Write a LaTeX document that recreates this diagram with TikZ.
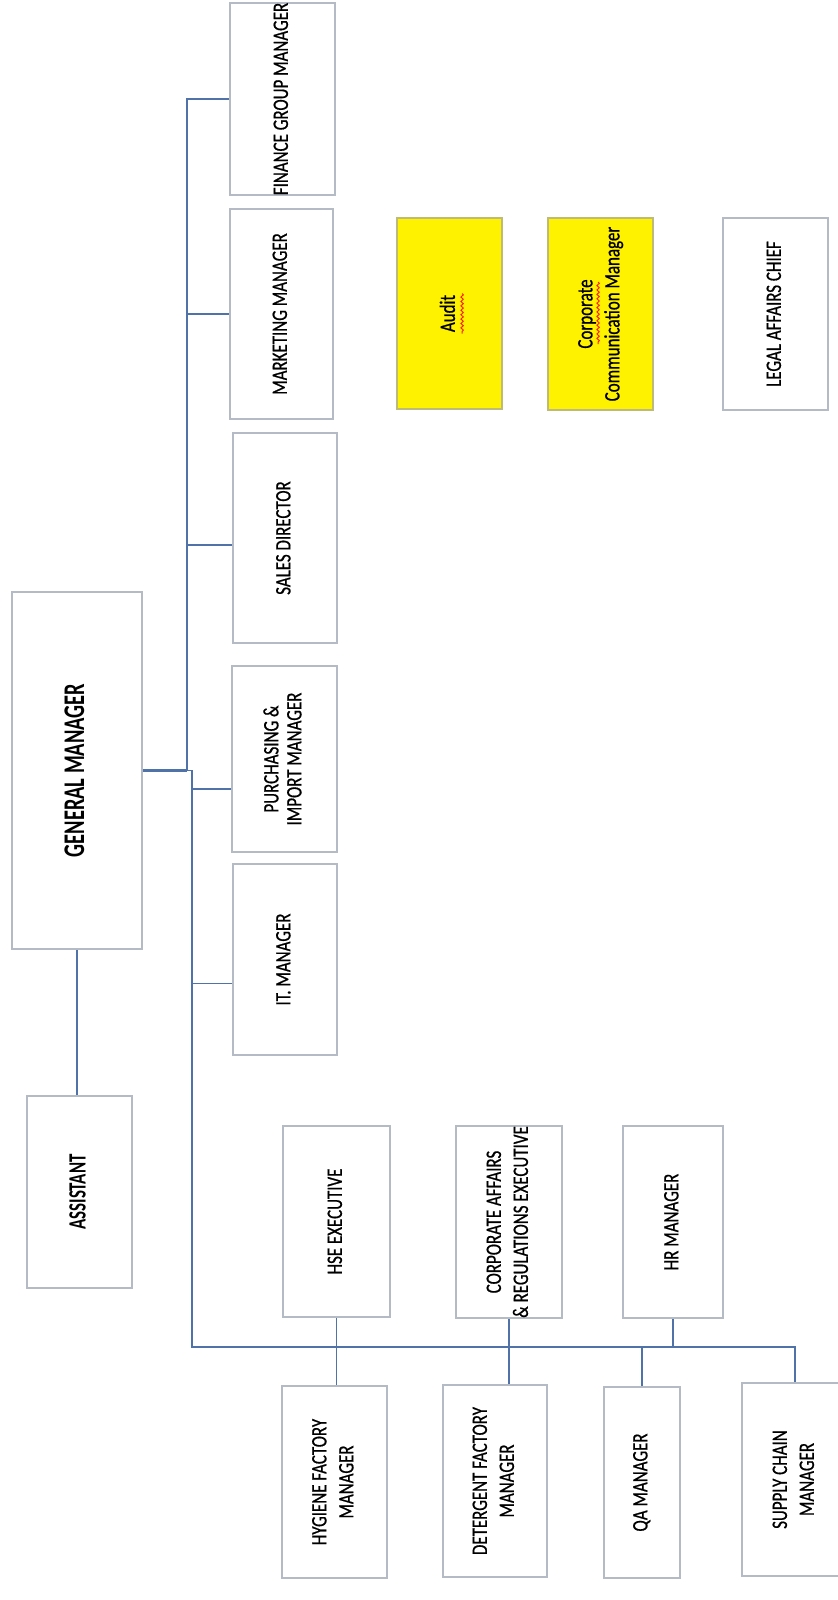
\documentclass[tikz,border=0pt]{standalone}
\usepackage{fontspec}
\usepackage{graphicx}
\setmainfont{Carlito}[FakeStretch=0.77, UprightFeatures={FakeBold=0.7}]
\newfontfamily\headfont{Carlito}[FakeStretch=0.68]
\usetikzlibrary{decorations.pathmorphing}

\definecolor{boxgray}{RGB}{180,187,197}
\definecolor{linkblue}{RGB}{79,114,168}
\definecolor{yellowedge}{RGB}{190,186,120}

\tikzset{
  box/.style={draw=boxgray, line width=1.1pt, fill=white, inner sep=0pt,
    minimum width=52.5pt, minimum height=96pt, font=\fontsize{11}{13.5}\selectfont},
  hlbox/.style={box, draw=yellowedge, fill=yellow},
  link/.style={draw=linkblue, line width=0.75pt},
  wavy/.style={draw=red!80!orange, line width=0.45pt,
    decorate, decoration={snake, segment length=2.2pt, amplitude=0.6pt}}
}
\newcommand{\rot}[1]{\rotatebox{90}{\begin{tabular}{@{}c@{}}#1\end{tabular}}}

\begin{document}
\begin{tikzpicture}[x=0.5pt, y=-0.5pt]
    \useasboundingbox (0,0) rectangle (838,1600);

    % top row
    \node[box] (fin) at (282.5,99) {\rot{FINANCE GROUP MANAGER}};
    \node[box, minimum width=51.5pt, minimum height=105pt] (mkt) at (281.5,314) {\rot{MARKETING MANAGER}};
    \node[box, minimum width=52pt, minimum height=105pt] (sales) at (285,538) {\rot{SALES DIRECTOR}};
    \node[box, minimum height=93pt] (purch) at (284.5,759) {\rot{PURCHASING \&\\[-2pt] IMPORT MANAGER}};
    \node[box, minimum width=52pt, minimum height=95.5pt] (it) at (285,959.5) {\rot{IT. MANAGER}};

    \node[box, minimum width=65pt, minimum height=178.5pt, font=\headfont\bfseries\fontsize{15}{18}\selectfont] (gm) at (77,770.5) {\rot{GENERAL MANAGER}};
    \node[box, font=\headfont\bfseries\fontsize{12.4}{15}\selectfont] (asst) at (79.5,1192) {\rot{ASSISTANT}};

    \node[hlbox, minimum height=95.5pt] (audit) at (449.5,313.5) {\rot{Audit}};
    \node[hlbox] (corpcomm) at (600.5,314) {\rot{Corporate\\Communication Manager}};
    \node[box] (legal) at (775.5,314) {\rot{LEGAL AFFAIRS CHIEF}};

    % bottom rows
    \node[box, minimum width=53.5pt, minimum height=95.5pt] (hse) at (336.5,1221.5) {\rot{HSE EXECUTIVE}};
    \node[box, minimum width=53pt] (corpaff) at (509,1222) {\rot{CORPORATE AFFAIRS\\\& REGULATIONS EXECUTIVE}};
    \node[box, minimum width=50pt] (hr) at (673,1222) {\rot{HR MANAGER}};

    \node[box] (hyg) at (334.5,1482) {\rot{HYGIENE FACTORY\\MANAGER}};
    \node[box, minimum width=52pt] (det) at (495,1481) {\rot{DETERGENT FACTORY\\MANAGER}};
    \node[box, minimum width=38pt, minimum height=95.5pt] (qa) at (642,1482.5) {\rot{QA MANAGER}};
    \node[box, minimum width=53pt, minimum height=96.5pt] (supply) at (795,1479.5) {\rot{SUPPLY CHAIN\\MANAGER}};

    \coordinate (jn) at (187,770.5);
    \coordinate (jm) at (192,770.5);
    \coordinate (jl) at (192,1347);

    \draw[link, line width=1.3pt] (gm.east) -- (jn);
    \draw[link] (gm.south) -- (gm.south |- asst.north);
    \draw[link] (fin.west) -| (jn);
    \draw[link] (mkt.west) -- (mkt.west -| jn);
    \draw[link] ([yshift=-3.5pt]sales.west) -- ([yshift=-3.5pt]sales.west -| jn);
    \draw[link] (jn) -- (jm) -- (jl) -| (supply.north);
    \draw[link] ([yshift=-15pt]purch.west) -- ([yshift=-15pt]purch.west -| jm);
    \draw[link] ([yshift=-12pt]it.west) -- ([yshift=-12pt]it.west -| jm);

    \draw[link] (hse.south) -- (hse.south |- hyg.north);
    \draw[link] (corpaff.south) -- (corpaff.south |- det.north);
    \draw[link] (hr.south) -- (hr.south |- jl);
    \draw[link] (qa.north) -- (qa.north |- jl);

    % spell check marks
    \draw[wavy] ([xshift=6.3pt,yshift=10pt]audit.center) -- ([xshift=6.3pt,yshift=-10pt]audit.center);
    \draw[wavy] ([xshift=-1.2pt,yshift=16pt]corpcomm.center) -- ([xshift=-1.2pt,yshift=-15pt]corpcomm.center);
\end{tikzpicture}
\end{document}
